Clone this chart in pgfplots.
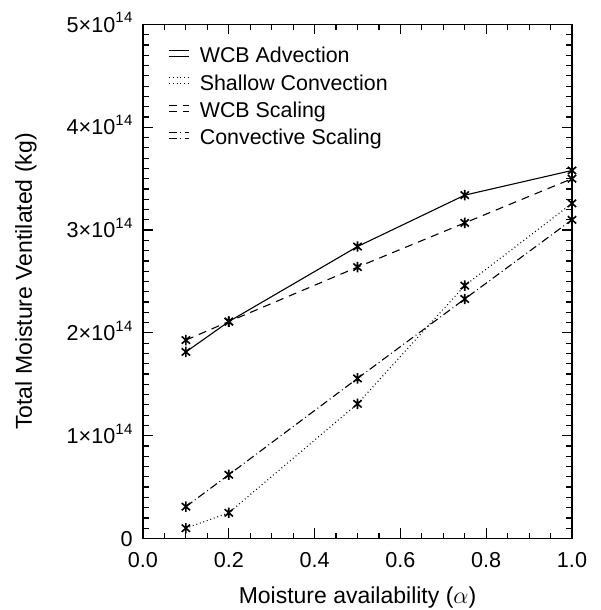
\documentclass[border=0pt]{standalone}
\usepackage{fontspec}
\setmainfont{Liberation Sans}
\usepackage{pgfplots}
\pgfplotsset{compat=1.18}
\usetikzlibrary{calc}
\pgfdeclareplotmark{idlstar}{%
  \pgfpathmoveto{\pgfqpoint{0pt}{\pgfplotmarksize}}%
  \pgfpathlineto{\pgfqpoint{0pt}{-\pgfplotmarksize}}%
  \pgfpathmoveto{\pgfqpoint{0.8\pgfplotmarksize}{0.7\pgfplotmarksize}}%
  \pgfpathlineto{\pgfqpoint{-0.8\pgfplotmarksize}{-0.7\pgfplotmarksize}}%
  \pgfpathmoveto{\pgfqpoint{-0.8\pgfplotmarksize}{0.7\pgfplotmarksize}}%
  \pgfpathlineto{\pgfqpoint{0.8\pgfplotmarksize}{-0.7\pgfplotmarksize}}%
  \pgfusepathqstroke}
\newcommand{\sci}[1]{#1×10\raisebox{4.6pt}{\fontsize{7.5}{8}\selectfont 1\kern0.3pt4}}
\begin{document}
\begin{tikzpicture}
\begin{axis}[
  name=ax,
  scale only axis,
  width=214.5pt, height=257pt,
  xmin=0, xmax=1, ymin=0, ymax=5,
  axis line style={line width=0.6pt},
  xtick={0,0.2,0.4,0.6,0.8,1.0},
  xticklabels={0.0,0.2,0.4,0.6,0.8,1.0},
  minor x tick num=3,
  ytick={0,1,2,3,4,5},
  yticklabels={0,\sci{1},\sci{2},\sci{3},\sci{4},\sci{5}},
  minor y tick num=9,
  tick align=inside,
  major tick length=5pt,
  minor tick length=2.8pt,
  tick style={line width=0.6pt, black},
  every tick label/.append style={font=\fontsize{10.8}{12}\selectfont},
  xticklabel style={anchor=north, inner sep=0pt, text height=7.6pt, text depth=0pt, yshift=-6.8pt},
  yticklabel style={anchor=east, inner sep=0pt, text height=7.6pt, text depth=0pt, xshift=-5pt},
  xlabel={Moisture availability ($\alpha$)},
  ylabel={Total Moisture Ventilated (kg)},
  label style={font=\fontsize{11.5}{13}\selectfont},
  xlabel style={at={(axis description cs:0.5,0)}, anchor=base, inner sep=0pt, yshift=-32.3pt},
  ylabel style={at={(axis description cs:0,0.5)}, anchor=center, inner sep=0pt, yshift=58.5pt},
  legend style={at={(axis description cs:0.045,0.972)}, anchor=north west,
    draw=none, fill=none, font=\fontsize{10.7}{12}\selectfont, row sep=0.4pt, column sep=3pt},
  legend cell align=left,
  legend image code/.code={\path (0pt,0pt) -- (10pt,0pt); \draw[#1] (0pt,3pt) -- (10pt,3pt);},
]
\addplot[solid, line width=0.55pt, black, mark=idlstar, mark size=2.6pt, mark options={solid, line width=0.8pt}] coordinates {(0.1,1.815) (0.2,2.11) (0.5,2.84) (0.75,3.34) (1.0,3.58)};
\addlegendentry{WCB Advection}
\addplot[dash pattern=on 0.45pt off 1.4pt, line width=0.55pt, black, mark=idlstar, mark size=2.6pt, mark options={solid, line width=0.8pt}] coordinates {(0.1,0.10) (0.2,0.25) (0.5,1.31) (0.75,2.46) (1.0,3.26)};
\addlegendentry{Shallow Convection}
\addplot[dash pattern=on 4pt off 3pt, line width=0.55pt, black, mark=idlstar, mark size=2.6pt, mark options={solid, line width=0.8pt}] coordinates {(0.1,1.93) (0.2,2.11) (0.5,2.64) (0.75,3.07) (1.0,3.50)};
\addlegendentry{WCB Scaling}
\addplot[dash pattern=on 4pt off 1.6pt on 0.45pt off 1.6pt, line width=0.55pt, black, mark=idlstar, mark size=2.6pt, mark options={solid, line width=0.8pt}] coordinates {(0.1,0.31) (0.2,0.62) (0.5,1.557) (0.75,2.33) (1.0,3.10)};
\addlegendentry{Convective Scaling}
\end{axis}
\path ($(ax.south west)+(-71.5pt,-35.75pt)$) rectangle ($(ax.south west)+(228.5pt,269.25pt)$);
\end{tikzpicture}
\end{document}
